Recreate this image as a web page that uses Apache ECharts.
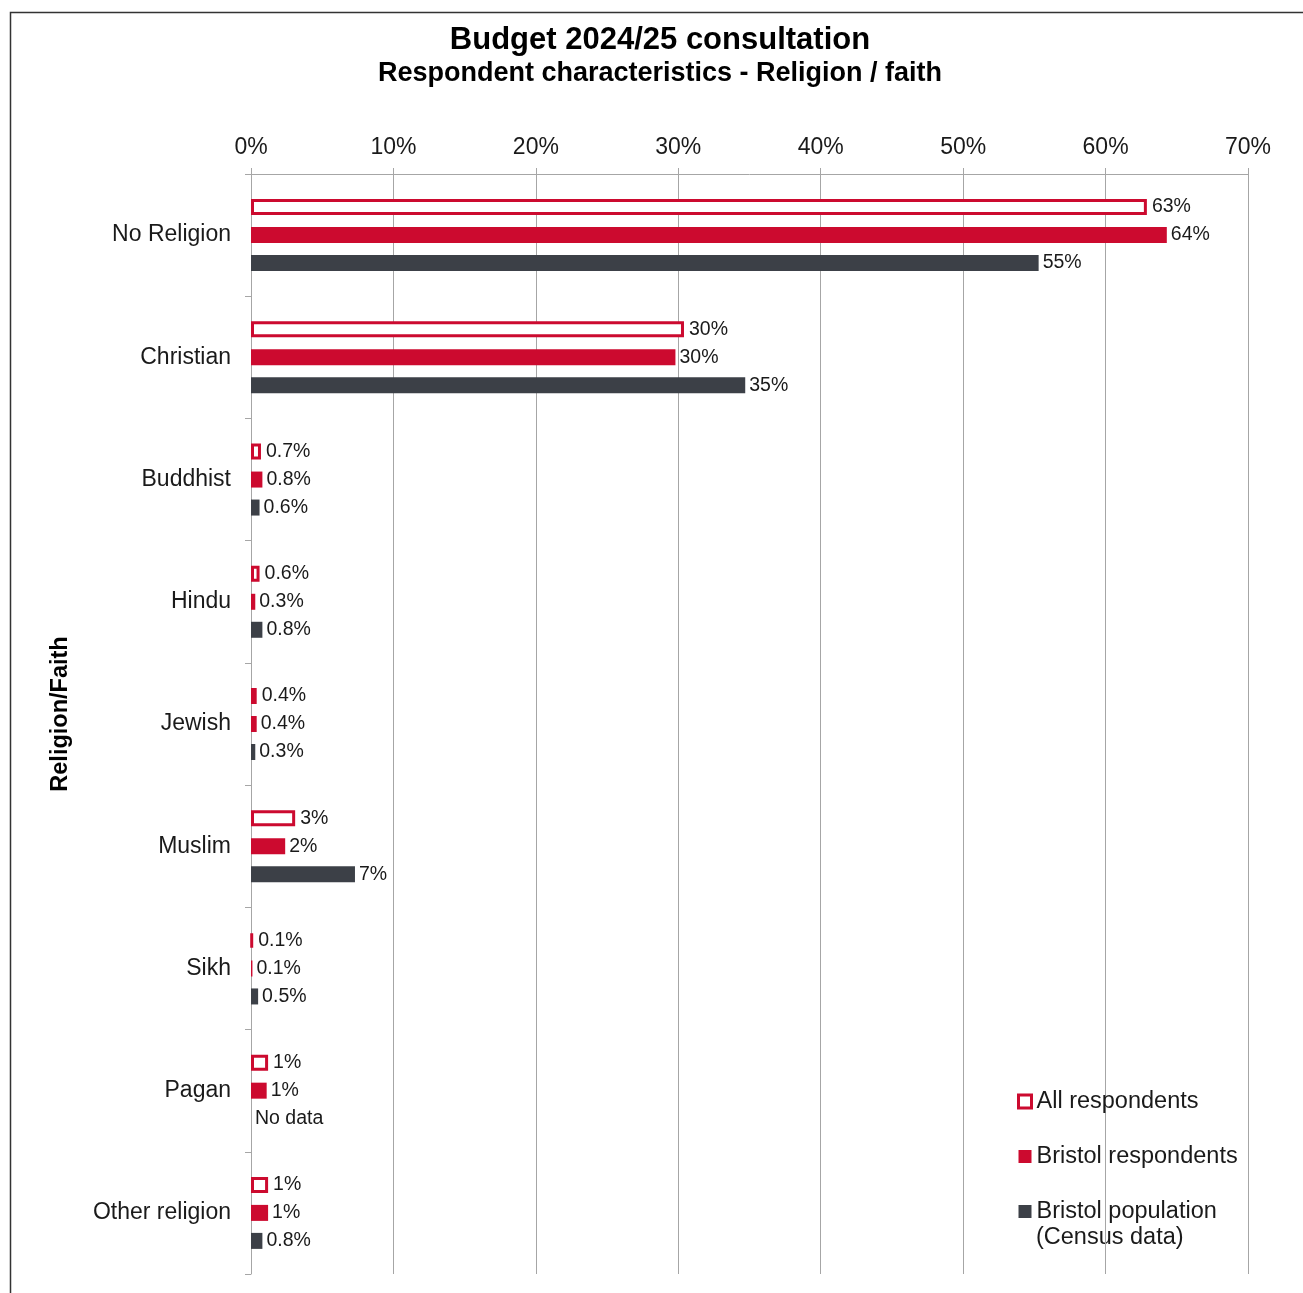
<!DOCTYPE html>
<html>
<head>
<meta charset="utf-8">
<script src="https://cdn.jsdelivr.net/npm/echarts@6/dist/echarts.min.js"></script>
<style>
  html, body { margin: 0; padding: 0; background: #fff; }
  #chart { width: 1303px; height: 1293px; }
</style>
</head>
<body>
<div id="chart"></div>
<script>
const categories = ['No Religion', 'Christian', 'Buddhist', 'Hindu', 'Jewish', 'Muslim', 'Sikh', 'Pagan', 'Other religion'];
const allRespondents = [62.9, 30.4, 0.7, 0.6, 0.4, 3.1, 0.1, 1.2, 1.2];
const bristolRespondents = [64.3, 29.8, 0.8, 0.3, 0.4, 2.4, 0.1, 1.1, 1.2];
const bristolPopulation = [55.3, 34.7, 0.6, 0.8, 0.3, 7.3, 0.5, null, 0.8];
const seriesNames = ['All respondents', 'Bristol respondents', 'Bristol population'];

const RED = '#cc0a2f';
const DARK = '#3c4047';
const FONT = '"Liberation Sans", Arial, sans-serif';

const fmtPct = function(v) {
  return v >= 1 ? Math.round(v) + '%' : v.toFixed(1) + '%';
};

// null -> zero bar with a "No data" label
const toData = function(arr) {
  return arr.map(v => v === null
    ? { value: 0, label: { formatter: 'No data' } }
    : v);
};

const labelStyle = {
  show: true,
  position: 'right',
  distance: 4,
  fontSize: 19.5,
  fontFamily: FONT,
  color: '#1a1a1a',
  formatter: p => fmtPct(p.value)
};

const myChart = echarts.init(document.querySelector('#chart'));

const option = {
  animation: false,
  textStyle: { fontFamily: FONT },
  title: [
    {
      text: 'Budget 2024/25 consultation',
      left: 655,
      top: 20,
      textAlign: 'center',
      textStyle: { fontSize: 31, fontWeight: 'bold', color: '#000', fontFamily: FONT }
    },
    {
      text: 'Respondent characteristics - Religion / faith',
      left: 655,
      top: 55,
      textAlign: 'center',
      textStyle: { fontSize: 27, fontWeight: 'bold', color: '#000', fontFamily: FONT }
    }
  ],
  graphic: [
    {
      type: 'rect',
      z: -1,
      shape: { x: 10.5, y: 12.5, width: 1400, height: 1400 },
      style: { fill: 'none', stroke: '#333', lineWidth: 1.5 }
    },
    {
      type: 'text',
      left: 1036,
      top: 1226,
      style: { text: '(Census data)', fontSize: 23.5, fontFamily: FONT, fill: '#1a1a1a' }
    }
  ],
  legend: {
    orient: 'vertical',
    left: 1012,
    top: 1084,
    itemWidth: 13,
    itemHeight: 13,
    itemGap: 30,
    icon: 'rect',
    textStyle: { fontSize: 23.5, lineHeight: 25, color: '#1a1a1a', fontFamily: FONT },
    data: [
      { name: seriesNames[0], itemStyle: { color: '#fff', borderColor: RED, borderWidth: 3 } },
      { name: seriesNames[1] },
      { name: seriesNames[2] }
    ]
  },
  grid: {
    left: 251,
    right: 55,
    top: 174,
    bottom: 19,
    containLabel: false
  },
  xAxis: {
    type: 'value',
    position: 'top',
    min: 0,
    max: 70,
    interval: 10,
    axisLine: { show: true, lineStyle: { color: '#a6a6a6', width: 1 } },
    axisTick: { show: true, length: 6, lineStyle: { color: '#a6a6a6' } },
    axisLabel: { formatter: '{value}%', fontSize: 23, color: '#1a1a1a', margin: 15, fontFamily: FONT },
    splitLine: { show: true, lineStyle: { color: '#a6a6a6', width: 1 } }
  },
  yAxis: {
    type: 'category',
    inverse: true,
    data: categories,
    name: 'Religion/Faith',
    nameLocation: 'middle',
    nameRotate: 90,
    nameGap: 178,
    nameTextStyle: { fontSize: 23.5, fontWeight: 'bold', color: '#000', fontFamily: FONT, padding: [0, 0, 0, 20] },
    axisLine: { show: true, lineStyle: { color: '#a6a6a6', width: 1 } },
    axisTick: { show: true, length: 6, lineStyle: { color: '#a6a6a6' } },
    axisLabel: { fontSize: 23, color: '#1a1a1a', margin: 20, fontFamily: FONT }
  },
  series: [
    {
      name: seriesNames[0],
      type: 'bar',
      data: toData(allRespondents),
      barWidth: 16,
      barGap: '75%',
      itemStyle: { color: '#fff', borderColor: RED, borderWidth: 3 },
      label: Object.assign({}, labelStyle, { distance: 5 })
    },
    {
      name: seriesNames[1],
      type: 'bar',
      data: toData(bristolRespondents),
      barWidth: 16,
      barGap: '75%',
      itemStyle: { color: RED },
      label: labelStyle
    },
    {
      name: seriesNames[2],
      type: 'bar',
      data: toData(bristolPopulation),
      barWidth: 16,
      barGap: '75%',
      itemStyle: { color: DARK },
      label: labelStyle
    }
  ]
};

myChart.setOption(option);

window.addEventListener('resize', function() {
  myChart.resize();
});
</script>
</body>
</html>
